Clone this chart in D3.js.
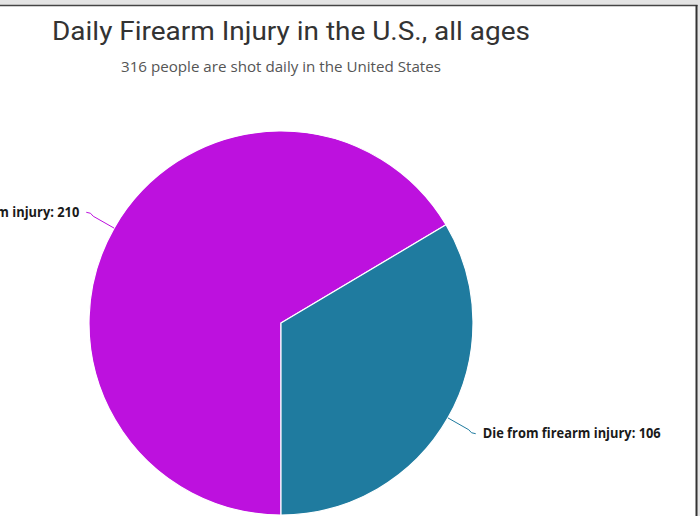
<!DOCTYPE html>
<html>
<head>
<meta charset="utf-8">
<script src="https://cdn.jsdelivr.net/npm/d3@7"></script>
<style>
  body { margin: 0; background: #fff; }
</style>
</head>
<body>
<div id="piechart"></div>
<script>
var categories = ["Survive firearm injury", "Die from firearm injury"];
var values = [210, 106];
var colors = ["#bd11de", "#1f7b9f"];
var titleText = "Daily Firearm Injury in the U.S., all ages";
var subtitleText = "316 people are shot daily in the United States";

var width = 700, height = 516;
var cx = 281, cy = 323, radius = 192;

var svg = d3.select("#piechart")
  .append("svg")
    .attr("width", width)
    .attr("height", height);

// frame around the chart (top + right edges visible)
svg.append("rect").attr("x", 0).attr("y", 0).attr("width", width).attr("height", 5).attr("fill", "#e4e4e4");
svg.append("rect").attr("x", 697).attr("y", 0).attr("width", 3).attr("height", height).attr("fill", "#e4e4e4");
svg.append("line").attr("x1", 0).attr("x2", 697.5).attr("y1", 5.5).attr("y2", 5.5)
  .attr("stroke", "#444").attr("stroke-width", 1.5);
svg.append("line").attr("x1", 696.5).attr("x2", 696.5).attr("y1", 5).attr("y2", height)
  .attr("stroke", "#333").attr("stroke-width", 2);

// fit text to the width seen in the picture
function fit(sel, target) {
  var w = sel.node().getComputedTextLength();
  sel.attr("textLength", target).attr("lengthAdjust", "spacingAndGlyphs");
  return target / w;
}

var title = svg.append("text")
  .attr("x", 52).attr("y", 40)
  .attr("font-family", "Roboto, sans-serif")
  .attr("font-size", 25)
  .attr("fill", "#333")
  .text(titleText);
fit(title, 478);

var subtitle = svg.append("text")
  .attr("x", 121).attr("y", 72)
  .attr("font-family", "'Open Sans', sans-serif")
  .attr("font-size", 15)
  .attr("fill", "#555")
  .text(subtitleText);
fit(subtitle, 320);

var data = categories.map(function(c, i) { return {name: c, value: values[i], color: colors[i]}; });

var pie = d3.pie()
  .sort(null)
  .value(function(d) { return d.value; })
  .startAngle(Math.PI)
  .endAngle(3 * Math.PI);

var arc = d3.arc().innerRadius(0).outerRadius(radius);

var g = svg.append("g").attr("transform", "translate(" + cx + "," + cy + ")");

var arcs = pie(data);

g.selectAll("path.slice")
  .data(arcs)
  .enter()
  .append("path")
    .attr("class", "slice")
    .attr("d", arc)
    .attr("fill", function(d) { return d.data.color; })
    .attr("stroke", "#fff")
    .attr("stroke-width", 1.2)
    .attr("stroke-linejoin", "round");

function polar(a, r) { return [Math.sin(a) * r, -Math.cos(a) * r]; }

var labelScale = null;
arcs.slice().reverse().forEach(function(d) {
  var mid = (d.startAngle + d.endAngle) / 2;
  var p0 = polar(mid, radius);
  var p1 = polar(mid, radius + 32);
  var side = Math.sin(mid) >= 0 ? 1 : -1;
  var ctrl = [p1[0] - side * 5, p1[1]];

  g.append("path")
    .attr("d", "M" + p0 + "L" + polar(mid, radius + 24) + "Q" + ctrl + " " + p1)
    .attr("fill", "none")
    .attr("stroke", d.data.color)
    .attr("stroke-width", 1);

  var t = g.append("text")
    .attr("x", p1[0] + side * 7)
    .attr("y", p1[1] + 4.5)
    .attr("text-anchor", side > 0 ? "start" : "end")
    .attr("font-family", "'Open Sans', sans-serif")
    .attr("font-weight", "bold")
    .attr("font-size", 14)
    .attr("fill", "#1a1a1a")
    .text(d.data.name + ": " + d.data.value);

  var w = t.node().getComputedTextLength();
  if (labelScale === null) labelScale = 178 / w;
  t.attr("textLength", w * labelScale).attr("lengthAdjust", "spacingAndGlyphs");
});
</script>
</body>
</html>
